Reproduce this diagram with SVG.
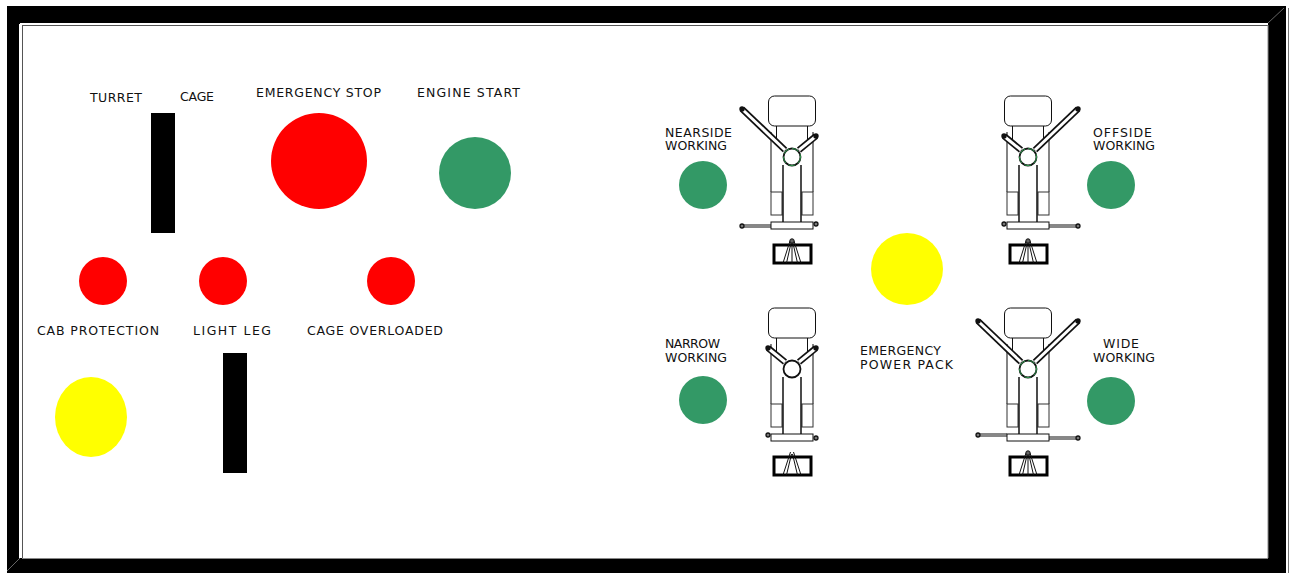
<svg xmlns="http://www.w3.org/2000/svg" width="1290" height="573" viewBox="0 0 1290 573">
<style>
text{font-family:"DejaVu Sans","Liberation Sans",sans-serif;font-size:12.5px;fill:#111}
.g{fill:#339966}.r{fill:#ff0000}.y{fill:#ffff00}
.l{fill:none;stroke:#111;stroke-width:1}
.w{fill:#fff;stroke:#111;stroke-width:1}
.arm{fill:none;stroke:#111;stroke-width:6.500}
.armi{fill:none;stroke:#fff;stroke-width:3}
.d{fill:#111}
</style>
<defs>
<g id="base">
<rect class="w" x="-23.5" y="-61" width="47" height="30" rx="6"/>
<path class="l" d="M-15.5-31V-16M15.5-31V-16"/>
<path d="M-21-25V35M21-25V35" fill="none" stroke="#333" stroke-width="1.200"/>
<rect x="-21" y="35" width="11" height="23" fill="#fff" stroke="#333"/>
<rect x="10" y="35" width="11" height="23" fill="#fff" stroke="#333"/>
<path d="M-9 8V65M9 8V65" fill="none" stroke="#000" stroke-width="1.400"/>
<rect class="w" x="-21" y="65" width="42" height="7"/>
<rect x="-18" y="88" width="37" height="18" fill="#fff" stroke="#000" stroke-width="3"/>
</g>
<path id="ladder" class="l" d="M-2 84L-9 106M-.5 84L-5.5 106M2 84L9 106M.5 84L5.500 106"/>
<g id="peak"><path class="l" d="M0 84V107"/><circle cx="0" cy="84" r="2.200" fill="#666" stroke="#111"/></g>
<g id="armsL"><path class="arm" d="M-50-48L-7-7"/><path class="armi" d="M-49-47L-7-7"/><circle class="d" cx="-50" cy="-48" r="2.700"/></g>
<g id="armsR"><path class="arm" d="M50-48L7-7"/><path class="armi" d="M49-47L7-7"/><circle class="d" cx="50" cy="-48" r="2.700"/></g>
<g id="armSL"><path class="arm" d="M-24-21L-7-7"/><path class="armi" d="M-23-20L-7-7"/><circle class="d" cx="-24" cy="-21" r="2.700"/></g>
<g id="armSR"><path class="arm" d="M24-21L7-7"/><path class="armi" d="M23-20L7-7"/><circle class="d" cx="24" cy="-21" r="2.700"/></g>
<g id="hub"><circle cx="0" cy="0" r="8.500" fill="#fff" stroke="#111" stroke-width="1.800"/></g>
<g id="hubG"><circle cx="0" cy="0" r="8.500" fill="#fff" stroke="#111" stroke-width="1.800"/><circle cx="0" cy="0" r="8.500" fill="none" stroke="#2e9b4e" stroke-width="1" stroke-dasharray="7 3"/></g>
<g id="dotL"><circle cx="0" cy="0" r="2" fill="#777" stroke="#111" stroke-width="1.300"/></g>
</defs>

<g id="frame">
<path fill-rule="evenodd" d="M7 6H1286V573H7ZM20 23V558H1268V23Z" fill="#000"/>
<path d="M20 24H1268M20 24V558" fill="none" stroke="#fff" stroke-width="2"/>
<path d="M22 25.500H1268M22.500 25V558" fill="none" stroke="#555" stroke-width="1"/>
<path d="M1268 558.500H22" fill="none" stroke="#888" stroke-width="1"/>
<path d="M1268 25V558" fill="none" stroke="#888" stroke-width="1"/>
<path d="M1287 9V573" fill="none" stroke="#fff" stroke-width="1"/>
<path d="M1288.500 8V573" fill="none" stroke="#777" stroke-width="1"/>
<path d="M1268 23L1284 8" fill="none" stroke="#666" stroke-width="1"/>
<path d="M20 558L7 571" fill="none" stroke="#666" stroke-width="1"/>
</g>

<g id="turret-cage"><text x="90" y="102" textLength="52" lengthAdjust="spacing">TURRET</text><text x="180" y="101" textLength="34" lengthAdjust="spacing">CAGE</text><rect x="151" y="113" width="24" height="120" fill="#000"/></g>
<g id="emergency-stop"><text x="256" y="97" textLength="125" lengthAdjust="spacing">EMERGENCY STOP</text><circle class="r" cx="319" cy="161" r="48"/></g>
<g id="engine-start"><text x="417" y="97" textLength="103" lengthAdjust="spacing">ENGINE START</text><circle class="g" cx="475" cy="173" r="36"/></g>
<g id="cab-protection"><circle class="r" cx="103" cy="281" r="24"/><text x="37" y="335" textLength="122" lengthAdjust="spacing">CAB PROTECTION</text></g>
<g id="light-leg"><circle class="r" cx="223" cy="281" r="24"/><text x="193" y="335" textLength="78" lengthAdjust="spacing">LIGHT LEG</text></g>
<g id="cage-overloaded"><circle class="r" cx="391" cy="281" r="24"/><text x="307" y="335" textLength="136" lengthAdjust="spacing">CAGE OVERLOADED</text></g>
<g id="yellow-lamp"><ellipse class="y" cx="91" cy="417" rx="36" ry="40"/></g>
<g id="switch-lower"><rect x="223" y="353" width="24" height="120" fill="#000"/></g>

<g id="nearside"><text x="665" y="137" textLength="67" lengthAdjust="spacing">NEARSIDE</text><text x="665" y="150" textLength="62" lengthAdjust="spacing">WORKING</text><circle class="g" cx="703" cy="185" r="24"/>
<g transform="translate(792 157)"><use href="#base"/><use href="#ladder"/><use href="#peak"/><use href="#armsL"/><use href="#armSR"/><use href="#hubG"/><path class="l" d="M-21 68H-50M-21 70H-50"/><use href="#dotL" x="-50" y="69"/><use href="#dotL" x="24" y="67"/></g></g>

<g id="offside"><text x="1093" y="137" textLength="59" lengthAdjust="spacing">OFFSIDE</text><text x="1093" y="150" textLength="62" lengthAdjust="spacing">WORKING</text><circle class="g" cx="1111" cy="185" r="24"/>
<g transform="translate(1028 157)"><use href="#base"/><use href="#ladder"/><use href="#peak"/><use href="#armsR"/><use href="#armSL"/><use href="#hubG"/><path class="l" d="M21 68H50M21 70H50"/><use href="#dotL" x="50" y="69"/><use href="#dotL" x="-24" y="67"/></g></g>

<g id="narrow"><text x="665" y="348" textLength="55" lengthAdjust="spacing">NARROW</text><text x="665" y="362" textLength="62" lengthAdjust="spacing">WORKING</text><circle class="g" cx="703" cy="400" r="24"/>
<g transform="translate(792 369)"><use href="#base"/><path class="l" d="M-1.500 83L-9 106M-.5 85L-5.500 106M1.500 83L9 106M.5 85L5.500 106"/><use href="#armSL"/><use href="#armSR"/><use href="#hub"/><use href="#dotL" x="-24" y="66"/><use href="#dotL" x="24" y="69"/></g></g>

<g id="wide"><text x="1103" y="348" textLength="36" lengthAdjust="spacing">WIDE</text><text x="1093" y="362" textLength="62" lengthAdjust="spacing">WORKING</text><circle class="g" cx="1111" cy="401" r="24"/>
<g transform="translate(1028 369)"><use href="#base"/><use href="#ladder"/><use href="#peak"/><use href="#armsL"/><use href="#armsR"/><use href="#hubG"/><path class="l" d="M-21 65H-50M-21 67H-50M21 68H50M21 70H50"/><use href="#dotL" x="-50" y="66"/><use href="#dotL" x="50" y="69"/></g></g>

<g id="emergency-power-pack"><circle class="y" cx="907" cy="269" r="36"/><text x="860" y="355" textLength="81" lengthAdjust="spacing">EMERGENCY</text><text x="860" y="369" textLength="93" lengthAdjust="spacing">POWER PACK</text></g>
</svg>
